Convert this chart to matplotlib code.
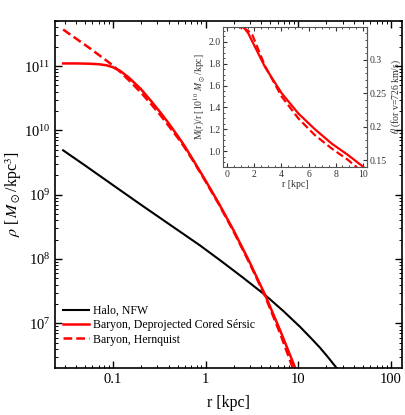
import numpy as np
import matplotlib
matplotlib.use('Agg')
import matplotlib.pyplot as plt
from matplotlib.ticker import FixedLocator, FuncFormatter, LogLocator, NullFormatter, MultipleLocator

plt.rcParams['font.family'] = ['Liberation Serif', 'DejaVu Serif']
plt.rcParams['mathtext.fontset'] = 'stix'

# density profiles
r_halo = [0.029, 0.05, 0.1, 0.2, 0.42, 0.873, 1.5, 2.5, 4.39, 6.9, 10.45, 14, 17.2, 21, 26]
rho_halo = [4.9e9, 2.85e9, 1.41e9, 7.0e8, 3.35e8, 1.62e8, 9.1e7, 5.2e7, 2.75e7,
            1.55e7, 8.8e6, 5.7e6, 4.15e6, 2.95e6, 2.0e6]

r_sersic = [0.029, 0.04, 0.055, 0.07, 0.085, 0.1, 0.12, 0.149, 0.2, 0.256, 0.33, 0.39,
            0.5, 0.58, 0.74, 1.0, 1.375, 2.0, 3.02, 4.39, 6.36, 9.24]
rho_sersic = [1.10e11, 1.10e11, 1.09e11, 1.07e11, 1.03e11, 9.6e10, 8.4e10, 6.6e10,
              4.4e10, 2.9e10, 1.85e10, 1.35e10, 8.2e9, 6.0e9, 3.4e9, 1.65e9, 7.5e8,
              2.8e8, 8.6e7, 2.75e7, 7.8e6, 2.04e6]

r_hern = [0.029, 0.04, 0.055, 0.07, 0.085, 0.1, 0.12, 0.149, 0.2, 0.256, 0.33, 0.39,
          0.5, 0.58, 0.74, 1.0, 1.375, 2.0, 3.02, 4.39, 6.36, 8.7]
rho_hern = [3.7e11, 2.68e11, 1.94e11, 1.5e11, 1.22e11, 1.02e11, 8.1e10, 6.0e10,
            3.9e10, 2.6e10, 1.68e10, 1.23e10, 7.7e9, 5.7e9, 3.3e9, 1.6e9, 7.3e8,
            2.7e8, 8.3e7, 2.62e7, 7.0e6, 2.04e6]

# inset: M(r)/r
r_in_sersic = [0.94, 1.2, 1.55, 2.04, 2.78, 4.01, 5.24, 6.47, 7.7, 8.93, 10.04]
mr_sersic = [2.13, 2.135, 2.077, 1.954, 1.77, 1.53, 1.345, 1.20, 1.07, 0.963, 0.856]
r_in_hern = [1.18, 1.8, 2.78, 4.01, 5.24, 6.47, 7.7, 8.93, 9.67]
mr_hern = [2.13, 2.077, 1.78, 1.50, 1.30, 1.146, 1.025, 0.918, 0.84]

theta_per_mr = 0.1636  # theta for v=726 km/s per unit M(r)/r

fig = plt.figure(figsize=(4.06, 4.15), dpi=100)
ax = fig.add_axes([0.1355, 0.114, 0.855, 0.835])

ax.plot(r_halo, rho_halo, color='k', lw=1.5, label='Halo, NFW')
ax.plot(r_sersic, rho_sersic, color='red', lw=1.8, label='Baryon, Deprojected Cored Sérsic')
ax.plot(r_hern, rho_hern, color='red', lw=1.8, ls=(0, (3.5, 1.6)), label='Baryon, Hernquist')

ax.set_xscale('log')
ax.set_yscale('log')
ax.set_xlim(0.0237, 132)
ax.set_ylim(2.04e6, 5.0e11)
ax.xaxis.set_major_locator(FixedLocator([0.1, 1, 10, 100]))
ax.xaxis.set_major_formatter(FuncFormatter(lambda v, p: '%g' % v))
ax.xaxis.set_minor_locator(LogLocator(base=10, subs=np.arange(2, 10)))
ax.xaxis.set_minor_formatter(NullFormatter())
ax.yaxis.set_major_locator(LogLocator(base=10, numticks=20))
ax.yaxis.set_minor_locator(LogLocator(base=10, subs=np.arange(2, 10), numticks=20))
ax.yaxis.set_minor_formatter(NullFormatter())
ax.tick_params(which='both', direction='in', top=True, right=True, labelsize=10.5)
ax.tick_params(which='major', length=5, width=1)
ax.tick_params(which='minor', length=2.5, width=0.7)
for s in ax.spines.values():
    s.set_linewidth(1.2)
ax.set_xlabel('r [kpc]', fontsize=11.5, labelpad=7)
ax.set_ylabel(r'$\rho$ [$\,M_\odot$/kpc$^3$]', fontsize=11.5, labelpad=0)

ax.legend(loc='lower left', bbox_to_anchor=(0.0, 0.04), frameon=False, fontsize=8.5,
          handlelength=2.2, handletextpad=0.3, labelspacing=0.2, borderaxespad=0.3)

# inset
axi = fig.add_axes([0.550, 0.598, 0.3532, 0.3373])
axi.plot(r_in_sersic, mr_sersic, color='red', lw=1.6)
axi.plot(r_in_hern, mr_hern, color='red', lw=1.6, ls=(0, (3.5, 1.6)))
axi.set_xlim(-0.3, 10.3)
axi.set_ylim(0.856, 2.137)
axi.xaxis.set_major_locator(MultipleLocator(2))
axi.xaxis.set_minor_locator(MultipleLocator(0.5))
axi.yaxis.set_major_locator(MultipleLocator(0.2))
axi.yaxis.set_minor_locator(MultipleLocator(0.05))
axi.yaxis.set_major_formatter(FuncFormatter(lambda v, p: '%.1f' % v))
axi.tick_params(which='both', direction='in', top=True, labelsize=7, colors='#333333', pad=2)
axi.tick_params(which='major', length=3)
axi.tick_params(which='minor', length=1.5)
for s in axi.spines.values():
    s.set_color('#555555')
    s.set_linewidth(0.8)
axi.set_xlabel('r [kpc]', fontsize=7, labelpad=1, color='#333333')
axi.set_ylabel(r'M(r)/r [10$^{10}$ $M_\odot$/kpc]', fontsize=7, labelpad=1, color='#333333')

sec = axi.secondary_yaxis('right', functions=(lambda m: m * theta_per_mr,
                                                lambda t: t / theta_per_mr))
sec.yaxis.set_major_locator(FixedLocator([0.15, 0.2, 0.25, 0.3]))
sec.yaxis.set_minor_locator(MultipleLocator(0.01))
sec.yaxis.set_major_formatter(FuncFormatter(lambda v, p: '%g' % round(v, 2)))
sec.tick_params(which='both', direction='in', labelsize=7, colors='#333333', pad=2)
sec.tick_params(which='major', length=3)
sec.tick_params(which='minor', length=1.5)
sec.spines['right'].set_color('#555555')
sec.set_ylabel(r'$\theta$ (for v=726 km/s)', fontsize=7, labelpad=2, color='#333333')

fig.savefig('out.png', dpi=100)
